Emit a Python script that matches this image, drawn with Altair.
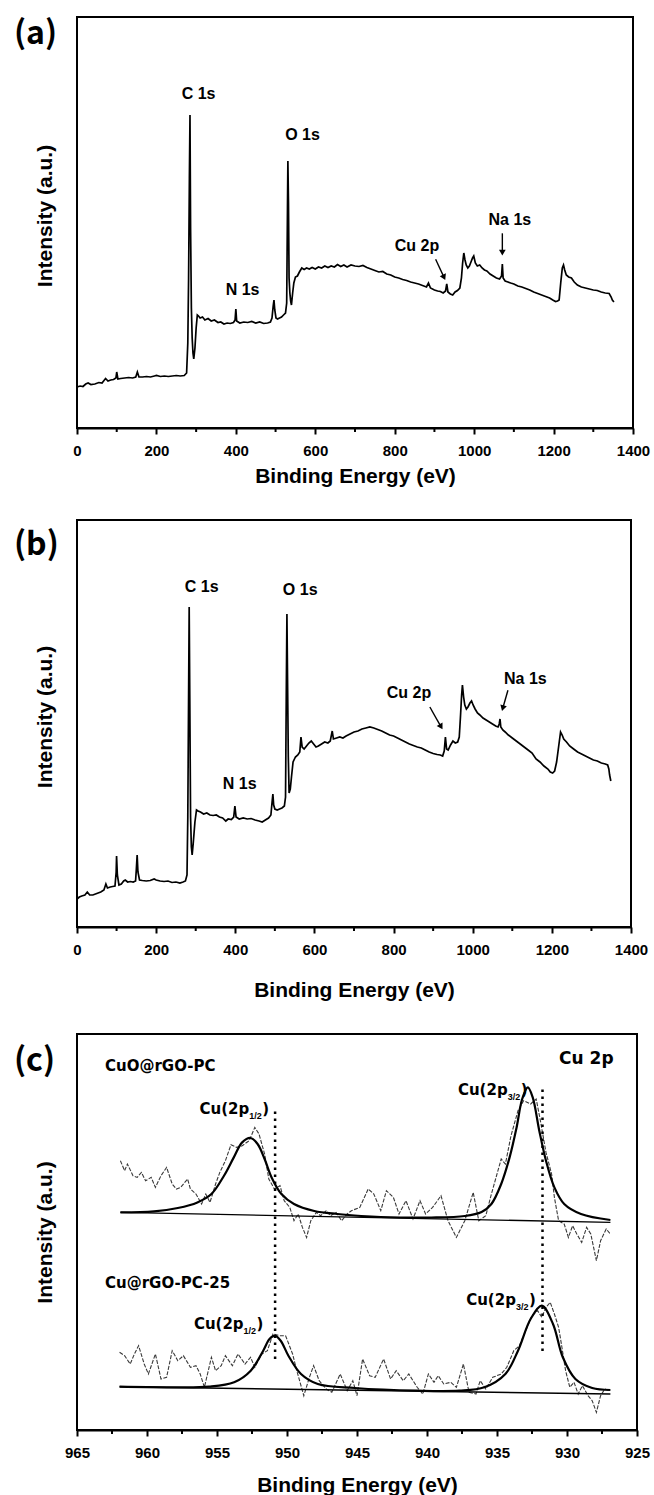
import altair as alt
import pandas as pd

# ---------------- data ----------------
# Panel (a): survey spectrum (binding energy eV, intensity a.u.)
a_points = [(0,41),(8,42),(15,41.5),(22,44),(28,45),(35,43.5),(45,44),(55,45.5),(63,45),(68,47.5),(72,49.5),(78,47),
    (85,48),(92,48.5),(98,50),(100,56),(103,49),(110,49.5),(120,50),(130,50.5),(140,50),(148,51),(152,56),(156,51),
    (165,51),(175,51.5),(185,51),(195,52),(200,52.5),(210,51.5),(220,52),(230,51.5),(240,52),(250,52.5),(260,52),
    (270,52.5),(276,55),(279,85),(281,150),(283,250),(284.5,313),(286,200),(288,120),(290,90),(292,75),(294,69),
    (297,80),(300,100),(303,113),(306,112),(310,110),(316,111),(322,108),(330,109.5),(338,107),(346,108),(355,105.5),
    (362,106),(370,104),(378,105),(386,104.5),(394,105.5),(398,108),(400,119),(402,107),(410,105),(420,106),
    (430,105.5),(440,106.5),(450,105),(460,106),(470,104.5),(480,105),(487,106),(491,110),(494,122),(496,128),
    (498,118),(501,110),(505,109),(510,110),(515,111),(520,113),(525,115),(528,125),(530,220),(531,267),
    (532.5,225),(534,150),(536,135),(538,127),(540,123),(543,135),(546,145),(550,151),(555,152),(560,156),
    (566,160),(572,158.5),(578,160),(585,159),(592,160.5),(600,159),(608,161),(616,160),(624,162),(632,160.5),
    (640,162),(648,161),(656,163.5),(664,161.5),(672,163),(680,161),(690,163),(700,162),(710,161.5),(720,162.5),
    (730,160.5),(740,159),(750,157.5),(760,156),(770,156.5),(780,154),(790,153),(800,151),(810,150),(820,148.5),
    (830,147.5),(840,146),(850,145),(860,144),(870,142.5),(880,141),(885,145),(890,140),(900,138),(908,137),
    (915,136.5),(922,135),(928,137),(931,144),(934,136),(940,134),(946,133),(952,136),(958,137.5),(964,140),
    (968,150),(971,165),(974,175),(977,168),(980,163),(984,160),(988,162),(992,166),(996,170),(999,172),
    (1003,165),(1008,162),(1014,163),(1020,160),(1026,158),(1032,157),(1040,154),(1048,152),(1056,150),
    (1064,149),(1069,152),(1071,164),(1073,150),(1078,147),(1085,146),(1092,145),(1100,144),(1110,142),
    (1120,141),(1130,139.5),(1140,138),(1150,136),(1160,134.5),(1170,133),(1180,131.5),(1190,130),(1198,128),
    (1205,126.5),(1210,127),(1214,128),(1218,145),(1222,160),(1225,163),(1228,158),(1232,153),(1238,151),
    (1245,150),(1252,146),(1260,143),(1270,141),(1280,140),(1290,139),(1300,138),(1310,137.5),(1320,136),
    (1330,135),(1340,134.5),(1345,131),(1348,128),(1352,126)]
a_labels = [("C 1s", 306, 334), ("O 1s", 568, 293), ("N 1s", 417, 138), ("Cu 2p", 856, 182), ("Na 1s", 1090, 208)]
a_arrows = [(903, 168.7, 924.2, 150.6, 335), (1071, 194.7, 1071, 175.3, 0)]

# Panel (b): survey spectrum
b_points = [(0,28),(6,30),(12,31),(20,32),(26,35),(32,32),(40,32),(50,33.5),(60,35),(68,37),(73,43),(77,39),
    (84,40),(90,40.5),(96,41),(99,55),(100,71),(102,52),(106,42),(112,43),(118,46),(122,47),(128,45),(135,45.5),
    (142,45),(148,46),(150,58),(152,72),(154,55),(158,47),(165,46.5),(175,46),(185,46.5),(195,48),(200,47),
    (210,46),(220,45.5),(230,46),(240,44.5),(250,45),(260,44),(268,45),(274,46),(278,52),(280,110),(282,230),
    (283.5,320),(285,230),(287,110),(289,80),(291,72),(294,85),(298,105),(302,117),(306,116),(312,115),(320,113),
    (328,114),(336,112),(344,111.5),(352,112),(360,110),(368,109),(376,106),(382,108),(390,107.5),(396,110),
    (399,121),(402,110),(410,108),(420,109),(430,108),(440,108.5),(450,107),(460,106),(468,105),(476,107),
    (484,109),(490,112),(493,125),(495,133),(497,122),(500,118),(506,117),(512,118),(518,119),(524,121),
    (527,130),(529,240),(530.5,313),(532,250),(534,170),(536,134),(539,138),(542,150),(546,165),(552,170),
    (558,172),(563,175),(566,190),(569,180),(574,178),(580,181),(586,184),(592,186),(598,183),(604,180),
    (610,181),(618,183),(626,185),(634,184),(640,186),(645,196),(648,188),(656,189),(664,190),(672,189),
    (680,191),(690,193),(700,195),(710,196),(720,198),(730,199),(740,200),(750,199),(760,197.5),(770,196),
    (780,194),(790,192),(800,191),(810,189),(820,187),(830,185),(840,183),(850,181.5),(860,180),(870,179),
    (880,177),(890,175),(900,173.5),(910,172.5),(918,172),(924,171),(928,176),(931,190),(934,178),(938,177),
    (944,182),(950,186),(956,184),(962,185),(966,190),(969,210),(972,232),(974,242),(977,230),(980,222),
    (984,218),(988,220),(993,224),(997,226),(1001,222),(1006,218),(1012,214),(1018,212),(1026,209),(1034,207),
    (1042,205),(1050,203),(1058,201),(1064,200),(1067,203),(1069,208),(1071,200),(1076,197),(1082,195),
    (1090,192),(1100,189),(1110,186),(1120,183),(1130,180),(1140,177),(1150,174),(1160,168),(1170,165),
    (1180,161),(1190,158),(1196,155),(1202,154),(1207,156),(1212,165),(1217,180),(1222,195),(1226,192),
    (1230,188),(1237,185),(1245,181),(1255,178),(1265,175),(1275,173),(1285,171),(1295,169),(1305,167),
    (1315,166),(1325,164),(1335,163),(1341,162),(1344,158),(1346,152),(1349,146)]
b_labels = [("C 1s", 315, 340), ("O 1s", 564, 337), ("N 1s", 411, 143), ("Cu 2p", 839, 234), ("Na 1s", 1133, 248)]
b_arrows = [(891.7, 220, 920, 200.2, 330), (1089, 236.7, 1076, 218.8, 16)]

# Panel (c): Cu 2p high-resolution spectra
c_up_raw = [(961.9,269.3),(961.6,259.3),(961.4,266),(961.0,254.3),(960.7,252.6),(960.4,257.6),(960.1,249.3),
    (959.7,252.6),(959.4,242.6),(959.0,254.3),(958.6,262.6),(958.2,246),(957.9,241),(957.6,242.6),(957.1,251),
    (956.9,241),(956.5,236),(956.1,226),(955.8,236),(955.5,227.6),(955.1,246),(954.8,257.6),(954.4,269.3),
    (954.0,285.3),(953.6,282.6),(953.2,284.3),(952.7,289.3),(952.3,302.6),(952.0,296),(951.6,276),(951.3,251),
    (950.9,241),(950.5,244.3),(950.2,229.3),(949.8,222.6),(949.5,209.3),(949.2,216),(948.9,202.6),(948.6,192.6),
    (948.3,209.3),(947.9,217.6),(947.6,214.3),(947.2,219.3),(946.9,214.3),(946.5,217.6),(946.1,209.3),
    (945.7,216),(945.4,219.3),(944.8,222.6),(944.2,241),(943.8,236),(943.3,219.3),(942.9,239.3),(942.4,232.6),
    (942.0,216),(941.5,229.3),(941.0,211),(940.5,229.3),(940.1,216),(939.6,222.6),(939.0,234.3),(938.5,209.3),
    (937.9,192.6),(937.3,209.3),(936.7,237.6),(936.3,209.3),(935.8,214.3),(935.4,236),(935.1,251),(934.7,271),
    (934.4,266),(934.0,294.3),(933.5,319.3),(933.1,329.3),(932.6,326),(932.2,331),(931.9,309.3),(931.5,277.6),
    (931.1,256),(930.9,232.6),(930.6,209.3),(930.2,206),(929.9,192.6),(929.6,204.3),(929.3,196),(928.95,187.6),
    (928.6,202.6),(928.3,196),(927.9,169.3),(927.6,189.3),(927.2,201),(926.9,196)]
c_up_fit = [(961.9,217.6),(959.5,218.6),(957.8,222),(956.4,227.6),(955.4,236),(954.5,254.3),(953.8,272.6),
    (953.2,287.6),(952.6,292),(952.1,286),(951.6,271),(951.1,252.6),(950.4,236),(949.5,226),(948.05,219),
    (946.4,216),(944.7,214),(943.3,213),(939.7,212.5),(937.3,214),(936.1,218),(935.4,226),(934.7,246),
    (934.1,272.6),(933.6,302.6),(933.2,331),(932.8,342.6),(932.45,332.6),(931.98,299.3),(931.5,269.3),
    (930.9,242.6),(930.2,226),(929.0,216),(926.9,210)]
c_up_base = [(961.9,217.6),(926.9,207.6)]
c_lo_raw = [(961.96,77.7),(961.6,74.3),(961.2,66),(960.9,76),(960.6,84.3),(960.2,66),(959.9,56),(959.4,76),
    (959.0,51),(958.6,52.7),(958.2,79.3),(957.8,69.3),(957.4,74.3),(956.9,62.7),(956.5,64.3),(956.2,56),
    (955.9,42.7),(955.4,72.7),(955.1,59.3),(954.7,64.3),(954.4,74.3),(953.9,64.3),(953.5,76),(953.0,66),
    (952.6,72.7),(952.3,62.7),(951.8,76),(951.4,79.3),(951.0,96),(950.5,94.3),(950.1,94.3),(949.6,76),
    (949.3,59.3),(948.8,34.3),(948.4,52.7),(948.1,64.3),(947.7,49.3),(947.2,41),(946.8,37.7),(946.2,56),
    (945.7,39.3),(945.3,49.3),(945.0,34.3),(944.6,71),(944.1,54.3),(943.7,52.7),(943.1,71),(942.6,51),
    (942.2,59.3),(941.7,49.3),(941.3,56),(940.7,42.7),(940.3,36),(939.9,56),(939.5,47.7),(939.2,54.3),
    (938.8,46),(938.3,47.7),(937.9,42.7),(937.4,66),(937.0,37.7),(936.5,36),(936.2,49.3),(935.8,41),
    (935.3,52.7),(934.7,56),(934.3,62.7),(933.8,79.3),(933.4,84.3),(932.95,99.3),(932.5,114.3),(932.1,119.3),
    (931.8,112.7),(931.5,122.7),(931.2,127.7),(930.9,116),(930.6,102.7),(930.4,86),(930.1,59.3),(929.8,42.7),
    (929.5,47.7),(929.2,36),(928.9,44.3),(928.5,34.3),(928.2,29.3),(927.9,17.7),(927.6,34.3),(927.3,41),
    (927.0,39.3)]
c_lo_fit = [(961.96,43.3),(958.54,42.7),(955.57,43.3),(953.78,47.7),(952.59,59.3),(951.7,79.3),(951.25,91),
    (950.86,94.3),(950.45,89.3),(949.9,74.3),(949.0,56),(947.8,46),(945.15,42),(940.7,39.3),(937.7,39.3),
    (935.9,42.7),(934.4,56),(933.5,79.3),(932.6,111),(931.8,124.3),(931.0,106),(930.3,72.7),(929.4,51),
    (928.2,42),(926.9,40)]
c_lo_base = [(961.96,43.3),(926.9,36)]
c_dotted = [(950.85, 71, 321), (931.75, 79, 341)]
c_texts = [("CuO@rGO-PC", 963.0, 359.3, "left", 15), ("Cu@rGO-PC-25", 963.0, 141.7, "left", 15),
           ("Cu 2p", 926.67, 366, "right", 17)]
# peak labels: (main text right edge eV, baseline intensity, subscript)
c_peaks = [(952.7, 316.3, "1/2"), (934.24, 335.3, "3/2"), (953.1, 101.5, "1/2"), (933.65, 125, "3/2")]

survey_major = [0, 200, 400, 600, 800, 1000, 1200, 1400]
survey_minor = [100, 300, 500, 700, 900, 1100, 1300]
cu_major = [965, 960, 955, 950, 945, 940, 935, 930, 925]
cu_minor = [962.5, 957.5, 952.5, 947.5, 942.5, 937.5, 932.5, 927.5]

ARIAL = "Liberation Sans"
DEJA = "DejaVu Sans"


def make_xenc(domain, values, title_pad, reverse=False):
    sc = alt.Scale(domain=domain, nice=False, zero=False, reverse=reverse)
    ax = alt.Axis(values=values, format="d", title="Binding Energy (eV)", grid=False,
                  tickSize=6, tickWidth=2, tickColor="black", domainColor="black", domainWidth=2,
                  labelFont=ARIAL, labelFontSize=15, labelFontWeight="bold", labelColor="black",
                  labelPadding=9, labelFlush=False, labelOverlap=False,
                  titleFont=ARIAL, titleFontSize=21, titleFontWeight="bold", titleColor="black",
                  titlePadding=title_pad)
    return sc, ax


def make_yenc(H, title_shift):
    sc = alt.Scale(domain=[0, H], nice=False, zero=False)
    ax = alt.Axis(title="Intensity (a.u.)", labels=False, ticks=False, domain=False, grid=False,
                  titleFont=ARIAL, titleFontSize=21, titleFontWeight="bold", titleColor="black",
                  titlePadding=22, titleY=H / 2 - title_shift)
    return sc, ax


def common_layers(xs, xa, ys, ya, H, minor, tag, tag_y):
    X = lambda f="eV": alt.X(f + ":Q", scale=xs, axis=xa)
    Y = lambda f="I": alt.Y(f + ":Q", scale=ys, axis=ya)
    mdf = pd.DataFrame({"eV": minor})
    minor_ticks = alt.Chart(mdf).mark_rule(color="black", strokeWidth=2).encode(
        x=X(), y=alt.value(H), y2=alt.value(H + 4))
    tdf = pd.DataFrame({"t": [tag]})
    tag_text = alt.Chart(tdf).mark_text(font="Noto Sans CJK SC", fontSize=32, fontWeight="bold",
                                        align="left", baseline="top", color="black").encode(
        text="t:N", x=alt.value(-63), y=alt.value(tag_y))
    return X, Y, [minor_ticks, tag_text]


def survey_panel(points, labels, arrows, tag, H, W, tag_y, title_pad):
    xs, xa = make_xenc([0, 1400], survey_major, title_pad)
    ys, ya = make_yenc(H, 7)
    X, Y, extra = common_layers(xs, xa, ys, ya, H, survey_minor, tag, tag_y)
    df = pd.DataFrame(points, columns=["eV", "I"])
    line = alt.Chart(df).mark_line(color="black", strokeWidth=1.7).encode(x=X(), y=Y())
    ldf = pd.DataFrame(labels, columns=["t", "eV", "I"])
    txt = alt.Chart(ldf).mark_text(font=ARIAL, fontSize=16, fontWeight="bold", color="black",
                                   baseline="middle").encode(x=X(), y=Y(), text="t:N")
    adf = pd.DataFrame(arrows, columns=["eV", "I", "eV2", "I2", "ang"])
    shaft = alt.Chart(adf).mark_rule(color="black", strokeWidth=1.4).encode(
        x=X(), y=Y(), x2="eV2:Q", y2="I2:Q")
    head = alt.Chart(adf).mark_point(shape="triangle-down", filled=True, color="black", size=45,
                                     opacity=1).encode(
        x=X("eV2"), y=Y("I2"), angle=alt.Angle("ang:Q", scale=None))
    return alt.layer(line, txt, shaft, head, *extra).properties(width=W, height=H)


def cu_panel(H, W, tag_y, title_pad):
    xs, xa = make_xenc([925, 965], cu_major, title_pad, reverse=True)
    ys, ya = make_yenc(H, 0)
    X, Y, extra = common_layers(xs, xa, ys, ya, H, cu_minor, "(c)", tag_y)
    layers = []
    for raw, fit, base in [(c_up_raw, c_up_fit, c_up_base), (c_lo_raw, c_lo_fit, c_lo_base)]:
        layers.append(alt.Chart(pd.DataFrame(raw, columns=["eV", "I"])).mark_line(
            color="#3a3a3a", strokeWidth=1.1, strokeDash=[4, 1.5]).encode(x=X(), y=Y()))
        layers.append(alt.Chart(pd.DataFrame(base, columns=["eV", "I"])).mark_line(
            color="black", strokeWidth=1.4).encode(x=X(), y=Y()))
        layers.append(alt.Chart(pd.DataFrame(fit, columns=["eV", "I"])).mark_line(
            color="black", strokeWidth=2.2, interpolate="catmull-rom").encode(x=X(), y=Y()))
    ddf = pd.DataFrame(c_dotted, columns=["eV", "I", "I2"])
    layers.append(alt.Chart(ddf).mark_rule(color="black", strokeWidth=2.5, strokeDash=[2.5, 4.5]).encode(
        x=X(), y=Y(), y2="I2:Q"))
    tdf = pd.DataFrame(c_texts, columns=["t", "eV", "I", "al", "fs"])
    for al in ["left", "right"]:
        sub = tdf[tdf["al"] == al]
        for fs in sorted(sub["fs"].unique()):
            s2 = sub[sub["fs"] == fs]
            layers.append(alt.Chart(s2).mark_text(font=DEJA, fontWeight="bold", fontSize=int(fs), align=al,
                                                  baseline="alphabetic", color="black").encode(
                x=X(), y=Y(), text="t:N"))
    pdf = pd.DataFrame(c_peaks, columns=["eV", "I", "sub"])
    pdf["main"] = "Cu(2p"
    pdf["close"] = ")"
    layers.append(alt.Chart(pdf).mark_text(font=DEJA, fontWeight="bold", fontSize=15, align="right",
                                           baseline="alphabetic", color="black").encode(
        x=X(), y=Y(), text="main:N"))
    layers.append(alt.Chart(pdf).mark_text(font=ARIAL, fontWeight="bold", fontSize=9, align="left",
                                           baseline="alphabetic", color="black", dx=0, dy=5).encode(
        x=X(), y=Y(), text="sub:N"))
    layers.append(alt.Chart(pdf).mark_text(font=DEJA, fontWeight="bold", fontSize=15, align="left",
                                           baseline="alphabetic", color="black", dx=13).encode(
        x=X(), y=Y(), text="close:N"))
    return alt.layer(*layers, *extra).properties(width=W, height=H)


pa = survey_panel(a_points, a_labels, a_arrows, "(a)", 411, 556, 2, 7)
pb = survey_panel(b_points, b_labels, b_arrows, "(b)", 407, 554, 10, 22)
pc = cu_panel(396, 560, 12, 14)

chart = alt.vconcat(pa, pb, pc, spacing=32).properties(
    padding={"left": 13, "top": 16, "right": 2, "bottom": 0},
    background="white",
).configure_view(stroke="black", strokeWidth=2)

chart.save("out.html", embed_options={"renderer": "svg", "actions": False})
